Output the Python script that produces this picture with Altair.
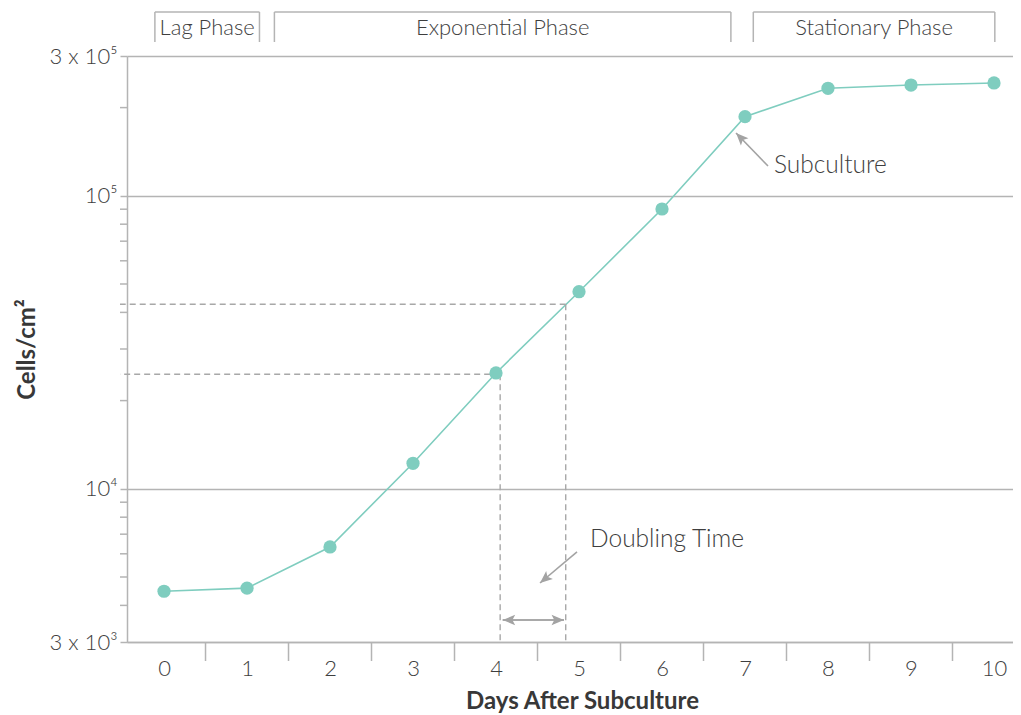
import altair as alt
import pandas as pd

# ---------------- data ----------------
days = list(range(11))
cells = [4470, 4580, 6330, 12220, 24850, 47060, 90150, 186200, 232800, 238800, 242700]

y_tick_values = [3000, 10000, 100000, 300000]
minor_tick_values = [4000, 5000, 6000, 7000, 8000, 9000,
                     20000, 30000, 40000, 50000, 60000, 70000, 80000, 90000,
                     200000]
x_separators = [0.5, 1.5, 2.5, 3.5, 4.5, 5.5, 6.5, 7.5, 8.5, 9.5]

phase_names = ["Lag Phase", "Exponential Phase", "Stationary Phase"]
phase_start = [-0.11, 1.33, 7.10]
phase_end = [1.15, 6.83, 10.01]

# doubling-time guide lines
guide_day = [4.05, 4.84]
guide_cells = [24600, 42630]

# arrows (tail -> head)
arrow_x = [7.277, 4.976, 4.081, 4.819]
arrow_y = [126400, 6087, 3567, 3567]
arrow_x2 = [6.892, 4.530, 4.819, 4.081]
arrow_y2 = [163800, 4770, 3567, 3567]
arrow_head_angle = [316, 230, 90, 270]

note_text = ["Subculture", "Doubling Time"]
note_x = [7.349, 5.133]
note_y = [126400, 6687]

# ---------------- styling ----------------
FONT = "Lato"
TEXT = "#3e3e3e"
GRID = "#b4b4b4"
TEAL = "#7fcdbf"
ARROW = "#a3a3a3"

xscale = alt.Scale(domain=[-0.446, 10.229], nice=False, zero=False)
yscale = alt.Scale(type="log", domain=[3000, 300000], nice=False)

label_expr = ("datum.value == 300000 ? '3 x 10⁵' : datum.value == 100000 ? '10⁵' : "
              "datum.value == 10000 ? '10⁴' : '3 x 10³'")

xaxis = alt.Axis(values=days, format="d", ticks=False, tickSize=0, grid=False,
                 labelPadding=16, title="Days After Subculture", titleFontSize=24,
                 titleX=455, titleY=66, titleAnchor="start", titleAlign="center",
                 titleBaseline="alphabetic")
yaxis = alt.Axis(values=y_tick_values, labelExpr=label_expr, grid=True,
                 tickSize=7, labelPadding=3, title="Cells/cm²", titleFontSize=24,
                 titleX=-100, titleY=293, titleAngle=-90,
                 titleAlign="center", titleBaseline="middle")


def X(f):
    return alt.X(f, type="quantitative", scale=xscale, axis=xaxis)


def Y(f):
    return alt.Y(f, type="quantitative", scale=yscale, axis=yaxis)


main_df = pd.DataFrame({"day": days, "cells": cells})
base = alt.Chart(main_df)

line = base.mark_line(color=TEAL, strokeWidth=1.6).encode(x=X("day"), y=Y("cells"))
points = base.mark_point(filled=True, color=TEAL, opacity=1, size=175).encode(
    x=X("day"), y=Y("cells")
)

# minor ticks on y axis
minor_df = pd.DataFrame({"v": minor_tick_values})
minor = alt.Chart(minor_df).mark_rule(color=GRID, strokeWidth=1.5).encode(
    y=Y("v"), x=alt.value(-7), x2=alt.value(0)
)

# x-axis separators
sep_df = pd.DataFrame({"s": x_separators})
seps = alt.Chart(sep_df).mark_rule(color=GRID, strokeWidth=1.5).encode(
    x=X("s"), y=alt.value(586), y2=alt.value(605)
)

# phase brackets
ph_df = pd.DataFrame({"name": phase_names, "start": phase_start, "end": phase_end})
ph_df["mid"] = (ph_df["start"] + ph_df["end"]) / 2
ph_top = alt.Chart(ph_df).mark_rule(color=GRID, strokeWidth=1.5).encode(
    x=X("start"), x2="end", y=alt.value(-44)
)
ph_left = alt.Chart(ph_df).mark_rule(color=GRID, strokeWidth=1.5).encode(
    x=X("start"), y=alt.value(-44), y2=alt.value(-14)
)
ph_right = alt.Chart(ph_df).mark_rule(color=GRID, strokeWidth=1.5).encode(
    x=X("end"), y=alt.value(-44), y2=alt.value(-14)
)
ph_text = alt.Chart(ph_df).mark_text(font=FONT, fontSize=22, color=TEXT, baseline="middle",
                                     align="center", fontWeight=300).encode(
    x=X("mid"), y=alt.value(-28), text="name"
)

# dashed guide lines
g_df = pd.DataFrame({"d": guide_day, "c": guide_cells, "floor": [3000, 3000]})
g_h = alt.Chart(g_df).mark_rule(color="#a8a8a8", strokeWidth=1.4, strokeDash=[6, 4]).encode(
    x=X("d"), x2=alt.value(-7), y=Y("c")
)
g_v = alt.Chart(g_df).mark_rule(color="#a8a8a8", strokeWidth=1.4, strokeDash=[6, 4]).encode(
    x=X("d"), y=Y("c"), y2="floor"
)

# arrows
a_df = pd.DataFrame({"x": arrow_x, "y": arrow_y, "x2": arrow_x2, "y2": arrow_y2,
                     "ang": arrow_head_angle})
a_line = alt.Chart(a_df).mark_rule(color=ARROW, strokeWidth=1.6).encode(
    x=X("x"), y=Y("y"), x2="x2", y2="y2"
)
a_head = alt.Chart(a_df).mark_point(filled=True, color=ARROW, opacity=1, size=620,
                                    shape="M0,0L-0.42,1L0,0.78L0.42,1Z").encode(
    x=X("x2"), y=Y("y2"),
    angle=alt.Angle("ang", type="quantitative", scale=None)
)

n_df = pd.DataFrame({"t": note_text, "x": note_x, "y": note_y})
notes = alt.Chart(n_df).mark_text(font=FONT, fontSize=24.5, color=TEXT, align="left",
                                  baseline="middle", fontWeight=300).encode(
    x=X("x"), y=Y("y"), text="t"
)

chart = alt.layer(
    line, minor, seps, g_h, g_v, ph_top, ph_left, ph_right, ph_text,
    a_line, a_head, notes, points
).properties(
    width=886, height=586,
    autosize=alt.AutoSizeParams(type="none"),
    padding={"left": 119, "top": 48, "right": 0, "bottom": 73},
).configure_view(stroke=None).configure_axis(
    labelFont=FONT, labelFontSize=22, labelColor=TEXT, labelFontWeight=300,
    titleFont=FONT, titleColor="#383838", titleFontWeight="bold",
    domainColor=GRID, domainWidth=1.5, tickColor=GRID, tickWidth=1.5,
    gridColor=GRID, gridWidth=1.5,
)

chart.save("out.html", embed_options={"renderer": "svg", "actions": False})
